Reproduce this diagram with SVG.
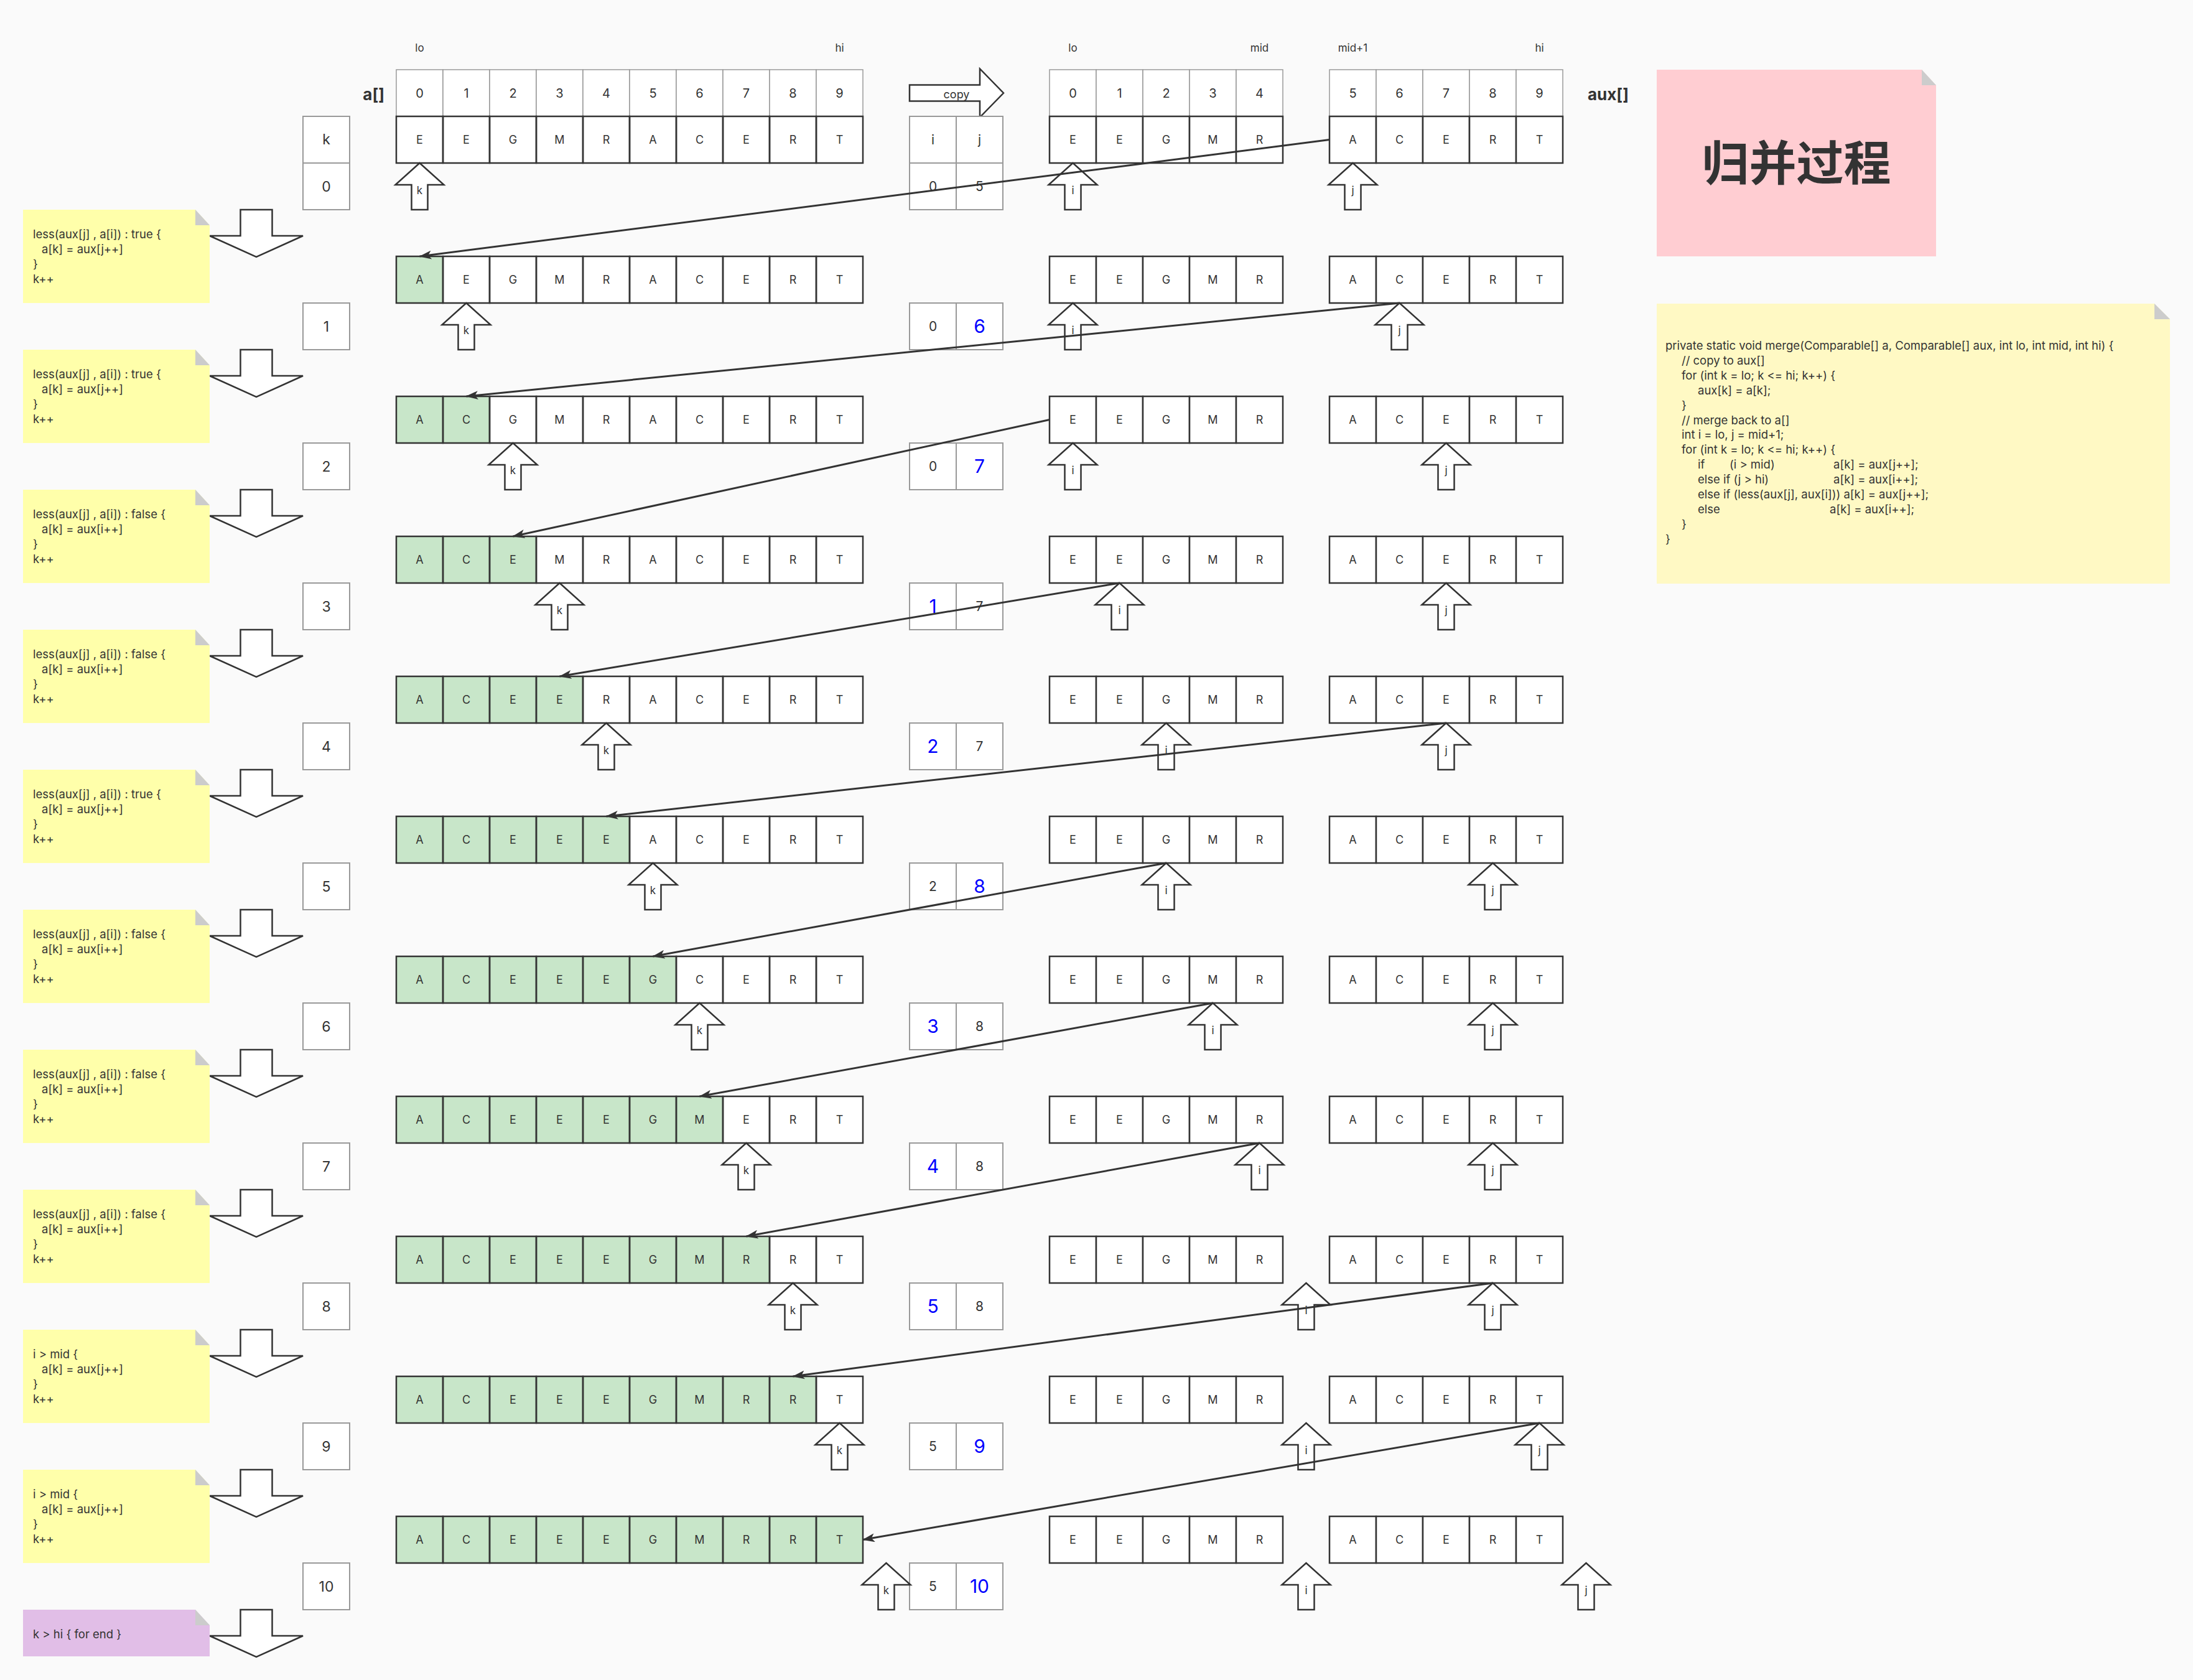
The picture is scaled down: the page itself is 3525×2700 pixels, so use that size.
<svg xmlns="http://www.w3.org/2000/svg" xmlns:xlink="http://www.w3.org/1999/xlink" width="3525" height="2700" viewBox="0 0 3525 2700">
<style>
.bg{fill:#FAFAFA}
.t{font-family:Inter,"Liberation Sans",Arial,sans-serif;fill:#333}
.v{font-size:18px}
.hd{font-size:20px}
.lb{font-size:17px}
.num{font-size:23px}
.ij{font-size:21px}
.blue{fill:#0000FF;font-size:30px}
.pl{font-size:17px}
.code{font-size:18.5px}
.ttl{font-family:"Noto Sans CJK SC","Noto Sans CJK JP",sans-serif;font-size:76px;font-weight:bold;fill:#333}
.arr{font-size:26px;font-weight:bold}
.cell{fill:none;stroke:#333;stroke-width:2.5}
.cellw{fill:#fff;stroke:#333;stroke-width:2.5}
.wh{fill:#fff}
.gr{fill:#C8E6C9}
.hc{fill:#fff;stroke:#999;stroke-width:1.5}
.box{fill:#fff;stroke:#999;stroke-width:2}
.ptr{fill:#fff;stroke:#333;stroke-width:2.5}
.noteY{fill:#FFFFAA}
.noteP{fill:#E1BEE7}
.noteC{fill:#FFF9C4}
.noteR{fill:#FFCDD2}
.fold{fill:#CCCCCC}
.conn{fill:none;stroke:#333;stroke-width:3;marker-end:url(#ah)}
</style>
<defs>
<marker id="ah" viewBox="0 0 20 14" refX="19" refY="7" markerWidth="20" markerHeight="14" markerUnits="userSpaceOnUse" orient="auto"><path d="M0,0 L20,7 L0,14 L5,7 Z" fill="#333"/></marker>
<path id="up" d="M0,0 L39,35 L13,35 L13,75 L-13,75 L-13,35 L-39,35 Z"/>
<path id="down" d="M-25.5,0 L25.5,0 L25.5,42 L75,42 L0,76 L-75,42 L-25.5,42 Z"/>
<path id="noteS" d="M0,0 H277 L300,25 V150 H0 Z"/>
<path id="noteSP" d="M0,0 H277 L300,25 V75 H0 Z"/>
<path id="foldS" d="M277,0 V25 H300 Z"/>
<g id="g10"><rect class="cell" x="0" y="0" width="75" height="75"/><rect class="cell" x="75" y="0" width="75" height="75"/><rect class="cell" x="150" y="0" width="75" height="75"/><rect class="cell" x="225" y="0" width="75" height="75"/><rect class="cell" x="300" y="0" width="75" height="75"/><rect class="cell" x="375" y="0" width="75" height="75"/><rect class="cell" x="450" y="0" width="75" height="75"/><rect class="cell" x="525" y="0" width="75" height="75"/><rect class="cell" x="600" y="0" width="75" height="75"/><rect class="cell" x="675" y="0" width="75" height="75"/></g>
<g id="g5"><rect class="cellw" x="0" y="0" width="75" height="75"/><rect class="cellw" x="75" y="0" width="75" height="75"/><rect class="cellw" x="150" y="0" width="75" height="75"/><rect class="cellw" x="225" y="0" width="75" height="75"/><rect class="cellw" x="300" y="0" width="75" height="75"/></g>
<g id="h10"><rect class="hc" x="0" y="0" width="75" height="75"/><rect class="hc" x="75" y="0" width="75" height="75"/><rect class="hc" x="150" y="0" width="75" height="75"/><rect class="hc" x="225" y="0" width="75" height="75"/><rect class="hc" x="300" y="0" width="75" height="75"/><rect class="hc" x="375" y="0" width="75" height="75"/><rect class="hc" x="450" y="0" width="75" height="75"/><rect class="hc" x="525" y="0" width="75" height="75"/><rect class="hc" x="600" y="0" width="75" height="75"/><rect class="hc" x="675" y="0" width="75" height="75"/></g>
<g id="h5"><rect class="hc" x="0" y="0" width="75" height="75"/><rect class="hc" x="75" y="0" width="75" height="75"/><rect class="hc" x="150" y="0" width="75" height="75"/><rect class="hc" x="225" y="0" width="75" height="75"/><rect class="hc" x="300" y="0" width="75" height="75"/></g>
</defs>
<rect class="bg" x="0" y="0" width="3525" height="2700"/>

<g id="headers">
<use href="#h10" x="637" y="112"/>
<use href="#h5" x="1687" y="112"/>
<use href="#h5" x="2137" y="112"/>
<g class="t hd" text-anchor="middle">
<text x="674.5" y="157">0</text><text x="749.5" y="157">1</text><text x="824.5" y="157">2</text><text x="899.5" y="157">3</text><text x="974.5" y="157">4</text><text x="1049.5" y="157">5</text><text x="1124.5" y="157">6</text><text x="1199.5" y="157">7</text><text x="1274.5" y="157">8</text><text x="1349.5" y="157">9</text>
<text x="1724.5" y="157">0</text><text x="1799.5" y="157">1</text><text x="1874.5" y="157">2</text><text x="1949.5" y="157">3</text><text x="2024.5" y="157">4</text>
<text x="2174.5" y="157">5</text><text x="2249.5" y="157">6</text><text x="2324.5" y="157">7</text><text x="2399.5" y="157">8</text><text x="2474.5" y="157">9</text>
</g>
<g class="t lb" text-anchor="middle">
<text x="674.5" y="83">lo</text><text x="1349.5" y="83">hi</text>
<text x="1724.5" y="83">lo</text><text x="2024.5" y="83">mid</text><text x="2174.5" y="83">mid+1</text><text x="2474.5" y="83">hi</text>
</g>
<text class="t arr" x="618" y="161" text-anchor="end">a[]</text>
<text class="t arr" x="2552" y="161">aux[]</text>
</g>

<g id="copy-arrow">
<path class="ptr" d="M1462,136.5 L1575,136.5 L1575,110.5 L1613,149.5 L1575,188.5 L1575,162.5 L1462,162.5 Z" stroke-width="3"/>
<text class="t" x="1537.5" y="158" font-size="18" text-anchor="middle">copy</text>
</g>

<g id="title">
<path class="noteR" d="M2663,112 H3089 L3112,137 V412 H2663 Z"/>
<path class="fold" d="M3089,112 V137 H3112 Z"/>
<text class="ttl" x="2887.5" y="290" text-anchor="middle">归并过程</text>
</g>

<g id="code-note">
<path class="noteC" d="M2663,488 H3463 L3488,513 V938 H2663 Z"/>
<path class="fold" d="M3463,488 V513 H3488 Z"/>
<g class="t code">
<text x="2677" y="562">private static void merge(Comparable[] a, Comparable[] aux, int lo, int mid, int hi) {</text>
<text x="2703" y="586">// copy to aux[]</text>
<text x="2703" y="610">for (int k = lo; k &lt;= hi; k++) {</text>
<text x="2729" y="634">aux[k] = a[k];</text>
<text x="2703" y="658">}</text>
<text x="2703" y="682">// merge back to a[]</text>
<text x="2703" y="705">int i = lo, j = mid+1;</text>
<text x="2703" y="729">for (int k = lo; k &lt;= hi; k++) {</text>
<text y="753"><tspan x="2729">if</tspan><tspan x="2780">(i &gt; mid)</tspan><tspan x="2947">a[k] = aux[j++];</tspan></text>
<text y="777"><tspan x="2729">else if (j &gt; hi)</tspan><tspan x="2947">a[k] = aux[i++];</tspan></text>
<text x="2729" y="801">else if (less(aux[j], aux[i])) a[k] = aux[j++];</text>
<text y="825"><tspan x="2729">else</tspan><tspan x="2941">a[k] = aux[i++];</tspan></text>
<text x="2703" y="849">}</text>
<text x="2677" y="873">}</text>
</g>
</g>

<g id="k-header"><rect class="box" x="487" y="187" width="75" height="75"/><text class="t num" x="524.5" y="232" text-anchor="middle">k</text></g>
<g id="ij-header"><rect class="box" x="1462" y="187" width="75" height="75"/><rect class="box" x="1537" y="187" width="75" height="75"/><text class="t ij" x="1499.5" y="232" text-anchor="middle">i</text><text class="t ij" x="1574.5" y="232" text-anchor="middle">j</text></g>

<g id="rows">
<g id="row-0">
<rect class="wh" x="637" y="187" width="750" height="75"/>
<use href="#g10" x="637" y="187"/><use href="#g5" x="1687" y="187"/><use href="#g5" x="2137" y="187"/>
<g class="t v" text-anchor="middle"><text x="674.5" y="231">E</text><text x="749.5" y="231">E</text><text x="824.5" y="231">G</text><text x="899.5" y="231">M</text><text x="974.5" y="231">R</text><text x="1049.5" y="231">A</text><text x="1124.5" y="231">C</text><text x="1199.5" y="231">E</text><text x="1274.5" y="231">R</text><text x="1349.5" y="231">T</text>
<text x="1724.5" y="231">E</text><text x="1799.5" y="231">E</text><text x="1874.5" y="231">G</text><text x="1949.5" y="231">M</text><text x="2024.5" y="231">R</text><text x="2174.5" y="231">A</text><text x="2249.5" y="231">C</text><text x="2324.5" y="231">E</text><text x="2399.5" y="231">R</text><text x="2474.5" y="231">T</text></g>
</g>
<g id="row-1">
<rect class="wh" x="637" y="412" width="750" height="75"/><rect class="gr" x="637" y="412" width="75" height="75"/>
<use href="#g10" x="637" y="412"/><use href="#g5" x="1687" y="412"/><use href="#g5" x="2137" y="412"/>
<g class="t v" text-anchor="middle"><text x="674.5" y="456">A</text><text x="749.5" y="456">E</text><text x="824.5" y="456">G</text><text x="899.5" y="456">M</text><text x="974.5" y="456">R</text><text x="1049.5" y="456">A</text><text x="1124.5" y="456">C</text><text x="1199.5" y="456">E</text><text x="1274.5" y="456">R</text><text x="1349.5" y="456">T</text>
<text x="1724.5" y="456">E</text><text x="1799.5" y="456">E</text><text x="1874.5" y="456">G</text><text x="1949.5" y="456">M</text><text x="2024.5" y="456">R</text><text x="2174.5" y="456">A</text><text x="2249.5" y="456">C</text><text x="2324.5" y="456">E</text><text x="2399.5" y="456">R</text><text x="2474.5" y="456">T</text></g>
</g>
<g id="row-2">
<rect class="wh" x="637" y="637" width="750" height="75"/><rect class="gr" x="637" y="637" width="150" height="75"/>
<use href="#g10" x="637" y="637"/><use href="#g5" x="1687" y="637"/><use href="#g5" x="2137" y="637"/>
<g class="t v" text-anchor="middle"><text x="674.5" y="681">A</text><text x="749.5" y="681">C</text><text x="824.5" y="681">G</text><text x="899.5" y="681">M</text><text x="974.5" y="681">R</text><text x="1049.5" y="681">A</text><text x="1124.5" y="681">C</text><text x="1199.5" y="681">E</text><text x="1274.5" y="681">R</text><text x="1349.5" y="681">T</text>
<text x="1724.5" y="681">E</text><text x="1799.5" y="681">E</text><text x="1874.5" y="681">G</text><text x="1949.5" y="681">M</text><text x="2024.5" y="681">R</text><text x="2174.5" y="681">A</text><text x="2249.5" y="681">C</text><text x="2324.5" y="681">E</text><text x="2399.5" y="681">R</text><text x="2474.5" y="681">T</text></g>
</g>
<g id="row-3">
<rect class="wh" x="637" y="862" width="750" height="75"/><rect class="gr" x="637" y="862" width="225" height="75"/>
<use href="#g10" x="637" y="862"/><use href="#g5" x="1687" y="862"/><use href="#g5" x="2137" y="862"/>
<g class="t v" text-anchor="middle"><text x="674.5" y="906">A</text><text x="749.5" y="906">C</text><text x="824.5" y="906">E</text><text x="899.5" y="906">M</text><text x="974.5" y="906">R</text><text x="1049.5" y="906">A</text><text x="1124.5" y="906">C</text><text x="1199.5" y="906">E</text><text x="1274.5" y="906">R</text><text x="1349.5" y="906">T</text>
<text x="1724.5" y="906">E</text><text x="1799.5" y="906">E</text><text x="1874.5" y="906">G</text><text x="1949.5" y="906">M</text><text x="2024.5" y="906">R</text><text x="2174.5" y="906">A</text><text x="2249.5" y="906">C</text><text x="2324.5" y="906">E</text><text x="2399.5" y="906">R</text><text x="2474.5" y="906">T</text></g>
</g>
<g id="row-4">
<rect class="wh" x="637" y="1087" width="750" height="75"/><rect class="gr" x="637" y="1087" width="300" height="75"/>
<use href="#g10" x="637" y="1087"/><use href="#g5" x="1687" y="1087"/><use href="#g5" x="2137" y="1087"/>
<g class="t v" text-anchor="middle"><text x="674.5" y="1131">A</text><text x="749.5" y="1131">C</text><text x="824.5" y="1131">E</text><text x="899.5" y="1131">E</text><text x="974.5" y="1131">R</text><text x="1049.5" y="1131">A</text><text x="1124.5" y="1131">C</text><text x="1199.5" y="1131">E</text><text x="1274.5" y="1131">R</text><text x="1349.5" y="1131">T</text>
<text x="1724.5" y="1131">E</text><text x="1799.5" y="1131">E</text><text x="1874.5" y="1131">G</text><text x="1949.5" y="1131">M</text><text x="2024.5" y="1131">R</text><text x="2174.5" y="1131">A</text><text x="2249.5" y="1131">C</text><text x="2324.5" y="1131">E</text><text x="2399.5" y="1131">R</text><text x="2474.5" y="1131">T</text></g>
</g>
<g id="row-5">
<rect class="wh" x="637" y="1312" width="750" height="75"/><rect class="gr" x="637" y="1312" width="375" height="75"/>
<use href="#g10" x="637" y="1312"/><use href="#g5" x="1687" y="1312"/><use href="#g5" x="2137" y="1312"/>
<g class="t v" text-anchor="middle"><text x="674.5" y="1356">A</text><text x="749.5" y="1356">C</text><text x="824.5" y="1356">E</text><text x="899.5" y="1356">E</text><text x="974.5" y="1356">E</text><text x="1049.5" y="1356">A</text><text x="1124.5" y="1356">C</text><text x="1199.5" y="1356">E</text><text x="1274.5" y="1356">R</text><text x="1349.5" y="1356">T</text>
<text x="1724.5" y="1356">E</text><text x="1799.5" y="1356">E</text><text x="1874.5" y="1356">G</text><text x="1949.5" y="1356">M</text><text x="2024.5" y="1356">R</text><text x="2174.5" y="1356">A</text><text x="2249.5" y="1356">C</text><text x="2324.5" y="1356">E</text><text x="2399.5" y="1356">R</text><text x="2474.5" y="1356">T</text></g>
</g>
<g id="row-6">
<rect class="wh" x="637" y="1537" width="750" height="75"/><rect class="gr" x="637" y="1537" width="450" height="75"/>
<use href="#g10" x="637" y="1537"/><use href="#g5" x="1687" y="1537"/><use href="#g5" x="2137" y="1537"/>
<g class="t v" text-anchor="middle"><text x="674.5" y="1581">A</text><text x="749.5" y="1581">C</text><text x="824.5" y="1581">E</text><text x="899.5" y="1581">E</text><text x="974.5" y="1581">E</text><text x="1049.5" y="1581">G</text><text x="1124.5" y="1581">C</text><text x="1199.5" y="1581">E</text><text x="1274.5" y="1581">R</text><text x="1349.5" y="1581">T</text>
<text x="1724.5" y="1581">E</text><text x="1799.5" y="1581">E</text><text x="1874.5" y="1581">G</text><text x="1949.5" y="1581">M</text><text x="2024.5" y="1581">R</text><text x="2174.5" y="1581">A</text><text x="2249.5" y="1581">C</text><text x="2324.5" y="1581">E</text><text x="2399.5" y="1581">R</text><text x="2474.5" y="1581">T</text></g>
</g>
<g id="row-7">
<rect class="wh" x="637" y="1762" width="750" height="75"/><rect class="gr" x="637" y="1762" width="525" height="75"/>
<use href="#g10" x="637" y="1762"/><use href="#g5" x="1687" y="1762"/><use href="#g5" x="2137" y="1762"/>
<g class="t v" text-anchor="middle"><text x="674.5" y="1806">A</text><text x="749.5" y="1806">C</text><text x="824.5" y="1806">E</text><text x="899.5" y="1806">E</text><text x="974.5" y="1806">E</text><text x="1049.5" y="1806">G</text><text x="1124.5" y="1806">M</text><text x="1199.5" y="1806">E</text><text x="1274.5" y="1806">R</text><text x="1349.5" y="1806">T</text>
<text x="1724.5" y="1806">E</text><text x="1799.5" y="1806">E</text><text x="1874.5" y="1806">G</text><text x="1949.5" y="1806">M</text><text x="2024.5" y="1806">R</text><text x="2174.5" y="1806">A</text><text x="2249.5" y="1806">C</text><text x="2324.5" y="1806">E</text><text x="2399.5" y="1806">R</text><text x="2474.5" y="1806">T</text></g>
</g>
<g id="row-8">
<rect class="wh" x="637" y="1987" width="750" height="75"/><rect class="gr" x="637" y="1987" width="600" height="75"/>
<use href="#g10" x="637" y="1987"/><use href="#g5" x="1687" y="1987"/><use href="#g5" x="2137" y="1987"/>
<g class="t v" text-anchor="middle"><text x="674.5" y="2031">A</text><text x="749.5" y="2031">C</text><text x="824.5" y="2031">E</text><text x="899.5" y="2031">E</text><text x="974.5" y="2031">E</text><text x="1049.5" y="2031">G</text><text x="1124.5" y="2031">M</text><text x="1199.5" y="2031">R</text><text x="1274.5" y="2031">R</text><text x="1349.5" y="2031">T</text>
<text x="1724.5" y="2031">E</text><text x="1799.5" y="2031">E</text><text x="1874.5" y="2031">G</text><text x="1949.5" y="2031">M</text><text x="2024.5" y="2031">R</text><text x="2174.5" y="2031">A</text><text x="2249.5" y="2031">C</text><text x="2324.5" y="2031">E</text><text x="2399.5" y="2031">R</text><text x="2474.5" y="2031">T</text></g>
</g>
<g id="row-9">
<rect class="wh" x="637" y="2212" width="750" height="75"/><rect class="gr" x="637" y="2212" width="675" height="75"/>
<use href="#g10" x="637" y="2212"/><use href="#g5" x="1687" y="2212"/><use href="#g5" x="2137" y="2212"/>
<g class="t v" text-anchor="middle"><text x="674.5" y="2256">A</text><text x="749.5" y="2256">C</text><text x="824.5" y="2256">E</text><text x="899.5" y="2256">E</text><text x="974.5" y="2256">E</text><text x="1049.5" y="2256">G</text><text x="1124.5" y="2256">M</text><text x="1199.5" y="2256">R</text><text x="1274.5" y="2256">R</text><text x="1349.5" y="2256">T</text>
<text x="1724.5" y="2256">E</text><text x="1799.5" y="2256">E</text><text x="1874.5" y="2256">G</text><text x="1949.5" y="2256">M</text><text x="2024.5" y="2256">R</text><text x="2174.5" y="2256">A</text><text x="2249.5" y="2256">C</text><text x="2324.5" y="2256">E</text><text x="2399.5" y="2256">R</text><text x="2474.5" y="2256">T</text></g>
</g>
<g id="row-10">
<rect class="gr" x="637" y="2437" width="750" height="75"/>
<use href="#g10" x="637" y="2437"/><use href="#g5" x="1687" y="2437"/><use href="#g5" x="2137" y="2437"/>
<g class="t v" text-anchor="middle"><text x="674.5" y="2481">A</text><text x="749.5" y="2481">C</text><text x="824.5" y="2481">E</text><text x="899.5" y="2481">E</text><text x="974.5" y="2481">E</text><text x="1049.5" y="2481">G</text><text x="1124.5" y="2481">M</text><text x="1199.5" y="2481">R</text><text x="1274.5" y="2481">R</text><text x="1349.5" y="2481">T</text>
<text x="1724.5" y="2481">E</text><text x="1799.5" y="2481">E</text><text x="1874.5" y="2481">G</text><text x="1949.5" y="2481">M</text><text x="2024.5" y="2481">R</text><text x="2174.5" y="2481">A</text><text x="2249.5" y="2481">C</text><text x="2324.5" y="2481">E</text><text x="2399.5" y="2481">R</text><text x="2474.5" y="2481">T</text></g>
</g>
</g>

<g id="k-values" class="t num" text-anchor="middle">
<g id="k-0"><rect class="box" x="487" y="262" width="75" height="75"/><text x="524.5" y="308">0</text></g>
<g id="k-1"><rect class="box" x="487" y="487" width="75" height="75"/><text x="524.5" y="533">1</text></g>
<g id="k-2"><rect class="box" x="487" y="712" width="75" height="75"/><text x="524.5" y="758">2</text></g>
<g id="k-3"><rect class="box" x="487" y="937" width="75" height="75"/><text x="524.5" y="983">3</text></g>
<g id="k-4"><rect class="box" x="487" y="1162" width="75" height="75"/><text x="524.5" y="1208">4</text></g>
<g id="k-5"><rect class="box" x="487" y="1387" width="75" height="75"/><text x="524.5" y="1433">5</text></g>
<g id="k-6"><rect class="box" x="487" y="1612" width="75" height="75"/><text x="524.5" y="1658">6</text></g>
<g id="k-7"><rect class="box" x="487" y="1837" width="75" height="75"/><text x="524.5" y="1883">7</text></g>
<g id="k-8"><rect class="box" x="487" y="2062" width="75" height="75"/><text x="524.5" y="2108">8</text></g>
<g id="k-9"><rect class="box" x="487" y="2287" width="75" height="75"/><text x="524.5" y="2333">9</text></g>
<g id="k-10"><rect class="box" x="487" y="2512" width="75" height="75"/><text x="524.5" y="2558">10</text></g>
</g>

<g id="ij-values" class="t ij" text-anchor="middle">
<g id="ij-0"><rect class="box" x="1462" y="262" width="75" height="75"/><rect class="box" x="1537" y="262" width="75" height="75"/><text x="1499.5" y="307">0</text><text x="1574.5" y="307">5</text></g>
<g id="ij-1"><rect class="box" x="1462" y="487" width="75" height="75"/><rect class="box" x="1537" y="487" width="75" height="75"/><text x="1499.5" y="532">0</text><text class="blue" x="1574.5" y="535">6</text></g>
<g id="ij-2"><rect class="box" x="1462" y="712" width="75" height="75"/><rect class="box" x="1537" y="712" width="75" height="75"/><text x="1499.5" y="757">0</text><text class="blue" x="1574.5" y="760">7</text></g>
<g id="ij-3"><rect class="box" x="1462" y="937" width="75" height="75"/><rect class="box" x="1537" y="937" width="75" height="75"/><text class="blue" x="1499.5" y="985">1</text><text x="1574.5" y="982">7</text></g>
<g id="ij-4"><rect class="box" x="1462" y="1162" width="75" height="75"/><rect class="box" x="1537" y="1162" width="75" height="75"/><text class="blue" x="1499.5" y="1210">2</text><text x="1574.5" y="1207">7</text></g>
<g id="ij-5"><rect class="box" x="1462" y="1387" width="75" height="75"/><rect class="box" x="1537" y="1387" width="75" height="75"/><text x="1499.5" y="1432">2</text><text class="blue" x="1574.5" y="1435">8</text></g>
<g id="ij-6"><rect class="box" x="1462" y="1612" width="75" height="75"/><rect class="box" x="1537" y="1612" width="75" height="75"/><text class="blue" x="1499.5" y="1660">3</text><text x="1574.5" y="1657">8</text></g>
<g id="ij-7"><rect class="box" x="1462" y="1837" width="75" height="75"/><rect class="box" x="1537" y="1837" width="75" height="75"/><text class="blue" x="1499.5" y="1885">4</text><text x="1574.5" y="1882">8</text></g>
<g id="ij-8"><rect class="box" x="1462" y="2062" width="75" height="75"/><rect class="box" x="1537" y="2062" width="75" height="75"/><text class="blue" x="1499.5" y="2110">5</text><text x="1574.5" y="2107">8</text></g>
<g id="ij-9"><rect class="box" x="1462" y="2287" width="75" height="75"/><rect class="box" x="1537" y="2287" width="75" height="75"/><text x="1499.5" y="2332">5</text><text class="blue" x="1574.5" y="2335">9</text></g>
<g id="ij-10"><rect class="box" x="1462" y="2512" width="75" height="75"/><rect class="box" x="1537" y="2512" width="75" height="75"/><text x="1499.5" y="2557">5</text><text class="blue" x="1574.5" y="2560">10</text></g>
</g>

<g id="pointers">
<g id="ptr-0"><use href="#up" class="ptr" x="674.5" y="262"/><use href="#up" class="ptr" x="1724.5" y="262"/><use href="#up" class="ptr" x="2174.5" y="262"/><g class="t pl" text-anchor="middle"><text x="674.5" y="312">k</text><text x="1724.5" y="312">i</text><text x="2174.5" y="312">j</text></g></g>
<g id="ptr-1"><use href="#up" class="ptr" x="749.5" y="487"/><use href="#up" class="ptr" x="1724.5" y="487"/><use href="#up" class="ptr" x="2249.5" y="487"/><g class="t pl" text-anchor="middle"><text x="749.5" y="537">k</text><text x="1724.5" y="537">i</text><text x="2249.5" y="537">j</text></g></g>
<g id="ptr-2"><use href="#up" class="ptr" x="824.5" y="712"/><use href="#up" class="ptr" x="1724.5" y="712"/><use href="#up" class="ptr" x="2324.5" y="712"/><g class="t pl" text-anchor="middle"><text x="824.5" y="762">k</text><text x="1724.5" y="762">i</text><text x="2324.5" y="762">j</text></g></g>
<g id="ptr-3"><use href="#up" class="ptr" x="899.5" y="937"/><use href="#up" class="ptr" x="1799.5" y="937"/><use href="#up" class="ptr" x="2324.5" y="937"/><g class="t pl" text-anchor="middle"><text x="899.5" y="987">k</text><text x="1799.5" y="987">i</text><text x="2324.5" y="987">j</text></g></g>
<g id="ptr-4"><use href="#up" class="ptr" x="974.5" y="1162"/><use href="#up" class="ptr" x="1874.5" y="1162"/><use href="#up" class="ptr" x="2324.5" y="1162"/><g class="t pl" text-anchor="middle"><text x="974.5" y="1212">k</text><text x="1874.5" y="1212">i</text><text x="2324.5" y="1212">j</text></g></g>
<g id="ptr-5"><use href="#up" class="ptr" x="1049.5" y="1387"/><use href="#up" class="ptr" x="1874.5" y="1387"/><use href="#up" class="ptr" x="2399.5" y="1387"/><g class="t pl" text-anchor="middle"><text x="1049.5" y="1437">k</text><text x="1874.5" y="1437">i</text><text x="2399.5" y="1437">j</text></g></g>
<g id="ptr-6"><use href="#up" class="ptr" x="1124.5" y="1612"/><use href="#up" class="ptr" x="1949.5" y="1612"/><use href="#up" class="ptr" x="2399.5" y="1612"/><g class="t pl" text-anchor="middle"><text x="1124.5" y="1662">k</text><text x="1949.5" y="1662">i</text><text x="2399.5" y="1662">j</text></g></g>
<g id="ptr-7"><use href="#up" class="ptr" x="1199.5" y="1837"/><use href="#up" class="ptr" x="2024.5" y="1837"/><use href="#up" class="ptr" x="2399.5" y="1837"/><g class="t pl" text-anchor="middle"><text x="1199.5" y="1887">k</text><text x="2024.5" y="1887">i</text><text x="2399.5" y="1887">j</text></g></g>
<g id="ptr-8"><use href="#up" class="ptr" x="1274.5" y="2062"/><use href="#up" class="ptr" x="2099.5" y="2062"/><use href="#up" class="ptr" x="2399.5" y="2062"/><g class="t pl" text-anchor="middle"><text x="1274.5" y="2112">k</text><text x="2099.5" y="2112">i</text><text x="2399.5" y="2112">j</text></g></g>
<g id="ptr-9"><use href="#up" class="ptr" x="1349.5" y="2287"/><use href="#up" class="ptr" x="2099.5" y="2287"/><use href="#up" class="ptr" x="2474.5" y="2287"/><g class="t pl" text-anchor="middle"><text x="1349.5" y="2337">k</text><text x="2099.5" y="2337">i</text><text x="2474.5" y="2337">j</text></g></g>
<g id="ptr-10"><use href="#up" class="ptr" x="1424.5" y="2512"/><use href="#up" class="ptr" x="2099.5" y="2512"/><use href="#up" class="ptr" x="2549.5" y="2512"/><g class="t pl" text-anchor="middle"><text x="1424.5" y="2562">k</text><text x="2099.5" y="2562">i</text><text x="2549.5" y="2562">j</text></g></g>
</g>

<g id="step-arrows">
<use href="#down" class="ptr" x="412" y="337"/><use href="#down" class="ptr" x="412" y="562"/><use href="#down" class="ptr" x="412" y="787"/><use href="#down" class="ptr" x="412" y="1012"/><use href="#down" class="ptr" x="412" y="1237"/><use href="#down" class="ptr" x="412" y="1462"/><use href="#down" class="ptr" x="412" y="1687"/><use href="#down" class="ptr" x="412" y="1912"/><use href="#down" class="ptr" x="412" y="2137"/><use href="#down" class="ptr" x="412" y="2362"/><use href="#down" class="ptr" x="412" y="2587"/>
</g>

<g id="notes" class="t code">
<g id="note-0"><use href="#noteS" class="noteY" x="37" y="337"/><use href="#foldS" class="fold" x="37" y="337"/><text x="53" y="383">less(aux[j] , a[i]) : true {</text><text x="67" y="407">a[k] = aux[j++]</text><text x="53" y="431">}</text><text x="53" y="455">k++</text></g>
<g id="note-1"><use href="#noteS" class="noteY" x="37" y="562"/><use href="#foldS" class="fold" x="37" y="562"/><text x="53" y="608">less(aux[j] , a[i]) : true {</text><text x="67" y="632">a[k] = aux[j++]</text><text x="53" y="656">}</text><text x="53" y="680">k++</text></g>
<g id="note-2"><use href="#noteS" class="noteY" x="37" y="787"/><use href="#foldS" class="fold" x="37" y="787"/><text x="53" y="833">less(aux[j] , a[i]) : false {</text><text x="67" y="857">a[k] = aux[i++]</text><text x="53" y="881">}</text><text x="53" y="905">k++</text></g>
<g id="note-3"><use href="#noteS" class="noteY" x="37" y="1012"/><use href="#foldS" class="fold" x="37" y="1012"/><text x="53" y="1058">less(aux[j] , a[i]) : false {</text><text x="67" y="1082">a[k] = aux[i++]</text><text x="53" y="1106">}</text><text x="53" y="1130">k++</text></g>
<g id="note-4"><use href="#noteS" class="noteY" x="37" y="1237"/><use href="#foldS" class="fold" x="37" y="1237"/><text x="53" y="1283">less(aux[j] , a[i]) : true {</text><text x="67" y="1307">a[k] = aux[j++]</text><text x="53" y="1331">}</text><text x="53" y="1355">k++</text></g>
<g id="note-5"><use href="#noteS" class="noteY" x="37" y="1462"/><use href="#foldS" class="fold" x="37" y="1462"/><text x="53" y="1508">less(aux[j] , a[i]) : false {</text><text x="67" y="1532">a[k] = aux[i++]</text><text x="53" y="1556">}</text><text x="53" y="1580">k++</text></g>
<g id="note-6"><use href="#noteS" class="noteY" x="37" y="1687"/><use href="#foldS" class="fold" x="37" y="1687"/><text x="53" y="1733">less(aux[j] , a[i]) : false {</text><text x="67" y="1757">a[k] = aux[i++]</text><text x="53" y="1781">}</text><text x="53" y="1805">k++</text></g>
<g id="note-7"><use href="#noteS" class="noteY" x="37" y="1912"/><use href="#foldS" class="fold" x="37" y="1912"/><text x="53" y="1958">less(aux[j] , a[i]) : false {</text><text x="67" y="1982">a[k] = aux[i++]</text><text x="53" y="2006">}</text><text x="53" y="2030">k++</text></g>
<g id="note-8"><use href="#noteS" class="noteY" x="37" y="2137"/><use href="#foldS" class="fold" x="37" y="2137"/><text x="53" y="2183">i &gt; mid {</text><text x="67" y="2207">a[k] = aux[j++]</text><text x="53" y="2231">}</text><text x="53" y="2255">k++</text></g>
<g id="note-9"><use href="#noteS" class="noteY" x="37" y="2362"/><use href="#foldS" class="fold" x="37" y="2362"/><text x="53" y="2408">i &gt; mid {</text><text x="67" y="2432">a[k] = aux[j++]</text><text x="53" y="2456">}</text><text x="53" y="2480">k++</text></g>
<g id="note-10"><use href="#noteSP" class="noteP" x="37" y="2587"/><use href="#foldS" class="fold" x="37" y="2587"/><text x="53" y="2633">k &gt; hi { for end }</text></g>
</g>

<g id="connectors">
<line class="conn" x1="2137" y1="224.5" x2="674.5" y2="412"/>
<line class="conn" x1="2249.5" y1="487" x2="749.5" y2="637"/>
<line class="conn" x1="1687" y1="674.5" x2="824.5" y2="862"/>
<line class="conn" x1="1799.5" y1="937" x2="899.5" y2="1087"/>
<line class="conn" x1="2324.5" y1="1162" x2="974.5" y2="1312"/>
<line class="conn" x1="1874.5" y1="1387" x2="1049.5" y2="1537"/>
<line class="conn" x1="1949.5" y1="1612" x2="1124.5" y2="1762"/>
<line class="conn" x1="2024.5" y1="1837" x2="1199.5" y2="1987"/>
<line class="conn" x1="2399.5" y1="2062" x2="1274.5" y2="2212"/>
<line class="conn" x1="2474.5" y1="2287" x2="1387" y2="2474.5"/>
</g>
</svg>
